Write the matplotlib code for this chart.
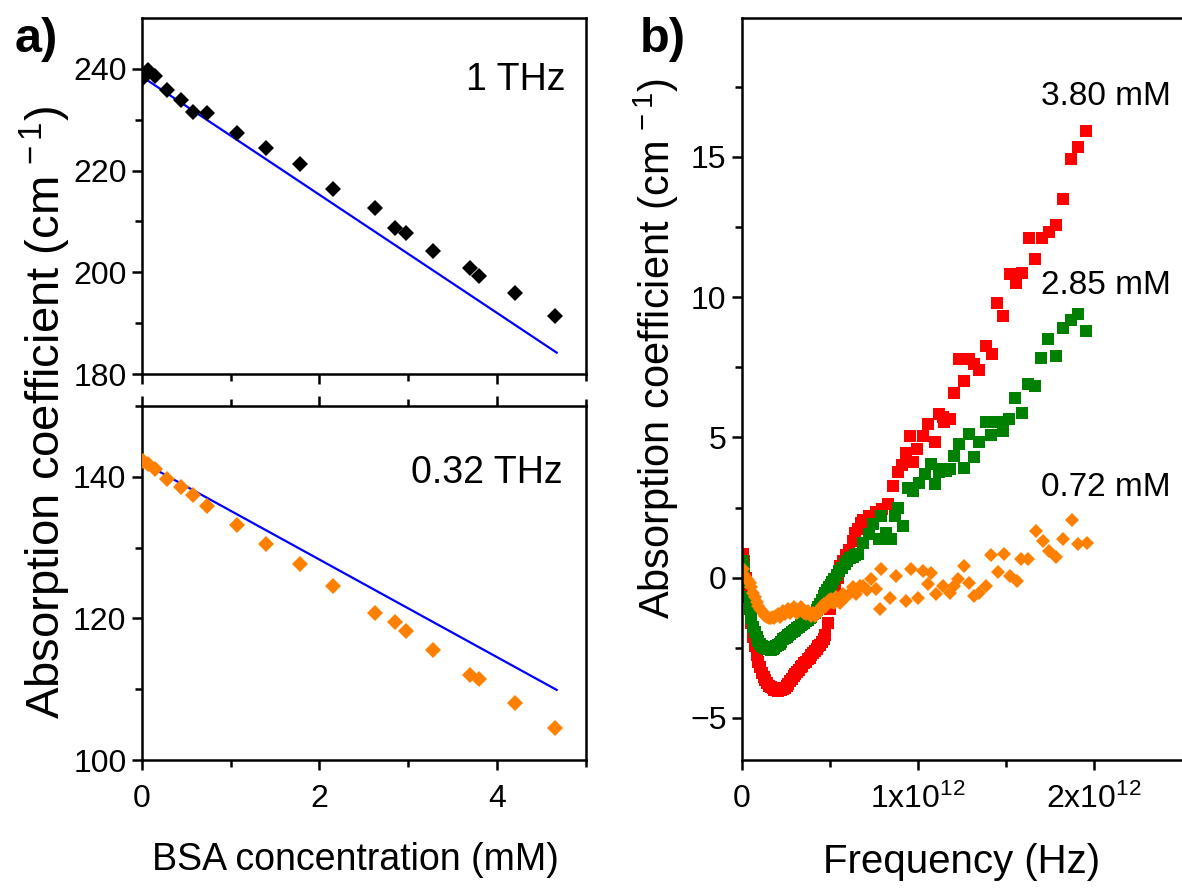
import matplotlib
matplotlib.use("Agg")
import matplotlib.pyplot as plt
import numpy as np
from matplotlib.ticker import MultipleLocator, FixedLocator, FixedFormatter

plt.rcParams['font.family'] = ['Liberation Sans', 'DejaVu Sans']
plt.rcParams['mathtext.fontset'] = 'custom'
plt.rcParams['mathtext.rm'] = 'Liberation Sans'
plt.rcParams['mathtext.it'] = 'Liberation Sans:italic'

# ---- panel a: absorption vs BSA concentration ----
conc = [0.02, 0.075, 0.15, 0.29, 0.44, 0.58, 0.73, 1.07, 1.40, 1.78, 2.15,
        2.63, 2.85, 2.97, 3.28, 3.70, 3.80, 4.20, 4.65]
alpha_1thz = [238.3, 239.7, 238.5, 235.9, 233.9, 231.6, 231.3, 227.3, 224.4,
              221.3, 216.4, 212.6, 208.8, 207.7, 204.2, 200.9, 199.3, 196.0, 191.5]
alpha_032thz = [142.3, 141.8, 141.1, 139.7, 138.5, 137.5, 135.9, 133.2, 130.5,
                127.7, 124.6, 120.7, 119.5, 118.2, 115.5, 112.0, 111.4, 108.0, 104.5]
fit_x = [0.0, 4.67]
fit_1thz = [238.5, 184.2]
fit_032thz = [142.1, 109.9]

# ---- panel b: absorption spectra (frequency in THz) ----
f_red = [0.005, 0.015, 0.025, 0.035, 0.045, 0.055, 0.065, 0.075, 0.085, 0.095,
         0.105, 0.115, 0.125, 0.135, 0.145, 0.155, 0.165, 0.175, 0.185, 0.195,
         0.205, 0.215, 0.225, 0.235, 0.245, 0.255, 0.265, 0.275, 0.285, 0.295,
         0.305, 0.315, 0.325, 0.335, 0.345, 0.355, 0.365, 0.375, 0.385, 0.395,
         0.405, 0.415, 0.425, 0.435, 0.445, 0.455, 0.465, 0.475, 0.49, 0.50,
         0.515, 0.53, 0.545, 0.56, 0.575, 0.59, 0.61, 0.63, 0.645, 0.66,
         0.675, 0.69, 0.72, 0.76, 0.795, 0.83, 0.858, 0.887, 0.91, 0.934,
         0.953, 0.972, 0.994, 1.028, 1.057, 1.10, 1.123, 1.142, 1.151, 1.18,
         1.204, 1.236, 1.26, 1.293, 1.321, 1.349, 1.387, 1.419, 1.45, 1.485,
         1.523, 1.557, 1.591, 1.629, 1.667, 1.704, 1.742, 1.784, 1.825, 1.869,
         1.912, 1.957]
a_red = [0.85, 0.6, 0.0, -0.6, -1.1, -1.6, -2.1, -2.45, -2.75, -3.0,
         -3.2, -3.4, -3.55, -3.65, -3.75, -3.85, -3.9, -3.95, -4.0, -4.02,
         -4.05, -4.02, -4.0, -3.98, -3.92, -3.85, -3.78, -3.7, -3.6, -3.5,
         -3.45, -3.35, -3.3, -3.2, -3.15, -3.05, -3.0, -2.9, -2.85, -2.75,
         -2.7, -2.6, -2.55, -2.45, -2.4, -2.3, -2.2, -2.05, -1.6, -1.1,
         -0.7, -0.3, 0.0, 0.4, 0.6, 0.8, 1.0, 1.3, 1.6, 1.75,
         1.95, 2.05, 2.2, 2.35, 2.45, 2.62, 3.27, 3.75, 4.0, 4.46,
         5.06, 4.11, 4.58, 5.06, 5.48, 4.82, 5.83, 5.71, 5.54, 5.65,
         6.57, 7.8, 7.02, 7.8, 7.62, 7.41, 8.27, 7.98, 9.8, 9.31,
         10.83, 10.51, 10.87, 12.1, 11.37, 12.1, 12.32, 12.58, 13.51, 14.94,
         15.36, 15.93]

f_green = [0.005, 0.015, 0.025, 0.035, 0.045, 0.055, 0.065, 0.075, 0.085, 0.095,
           0.105, 0.115, 0.125, 0.135, 0.145, 0.155, 0.165, 0.175, 0.185, 0.195,
           0.205, 0.215, 0.225, 0.235, 0.245, 0.255, 0.265, 0.275, 0.285, 0.295,
           0.305, 0.315, 0.325, 0.335, 0.345, 0.355, 0.365, 0.375, 0.385, 0.395,
           0.405, 0.415, 0.425, 0.435, 0.445, 0.455, 0.465, 0.475, 0.485, 0.495,
           0.505, 0.515, 0.525, 0.54, 0.555, 0.57, 0.585, 0.60, 0.615, 0.63,
           0.645, 0.66, 0.689, 0.72, 0.745, 0.78, 0.793, 0.82, 0.85, 0.868,
           0.887, 0.915, 0.943, 0.972, 1.004, 1.038, 1.072, 1.10, 1.123, 1.142,
           1.16, 1.18, 1.204, 1.236, 1.26, 1.293, 1.321, 1.349, 1.387, 1.416,
           1.45, 1.485, 1.519, 1.551, 1.589, 1.627, 1.665, 1.702, 1.74, 1.784,
           1.825, 1.869, 1.912, 1.953]
a_green = [0.6, 0.3, -0.2, -0.7, -1.1, -1.45, -1.75, -1.95, -2.1, -2.25,
           -2.35, -2.42, -2.48, -2.52, -2.55, -2.55, -2.57, -2.55, -2.5, -2.45,
           -2.4, -2.35, -2.3, -2.2, -2.15, -2.1, -2.05, -2.0, -1.95, -1.9,
           -1.85, -1.8, -1.75, -1.7, -1.65, -1.6, -1.55, -1.5, -1.45, -1.4,
           -1.3, -1.25, -1.15, -1.05, -0.95, -0.8, -0.65, -0.55, -0.45, -0.35,
           -0.25, -0.15, -0.05, 0.1, 0.25, 0.35, 0.5, 0.6, 0.7, 0.75,
           0.8, 0.83, 1.25, 1.55, 1.9, 1.37, 2.2, 1.6, 1.39, 2.2,
           2.5, 1.84, 3.21, 3.09, 3.39, 3.69, 4.05, 3.33, 3.75, 3.87,
           3.81, 3.87, 4.34, 4.76, 3.9, 5.12, 4.29, 4.82, 5.54, 5.08,
           5.54, 5.24, 5.65, 6.39, 5.86, 6.9, 6.82, 7.83, 8.51, 7.91,
           8.89, 9.2, 9.4, 8.81]

f_orange = [0.005, 0.015, 0.025, 0.035, 0.045, 0.055, 0.065, 0.075, 0.085, 0.095,
            0.105, 0.115, 0.125, 0.135, 0.145, 0.155, 0.165, 0.175, 0.185, 0.195,
            0.205, 0.215, 0.225, 0.235, 0.245, 0.255, 0.265, 0.275, 0.285, 0.295,
            0.305, 0.315, 0.325, 0.335, 0.345, 0.355, 0.365, 0.375, 0.385, 0.395,
            0.405, 0.415, 0.425, 0.435, 0.445, 0.455, 0.465, 0.475, 0.485, 0.495,
            0.505, 0.515, 0.525, 0.535, 0.545, 0.557, 0.575, 0.595, 0.613, 0.63,
            0.65, 0.67, 0.689, 0.71, 0.736, 0.76, 0.783, 0.793, 0.84, 0.878,
            0.934, 0.963, 1.0, 1.028, 1.057, 1.076, 1.104, 1.142, 1.18, 1.208,
            1.226, 1.265, 1.293, 1.321, 1.349, 1.387, 1.416, 1.453, 1.487, 1.525,
            1.561, 1.585, 1.623, 1.67, 1.708, 1.746, 1.784, 1.825, 1.874, 1.912,
            1.959]
a_orange = [0.3, 0.1, 0.0, -0.1, -0.2, -0.35, -0.55, -0.7, -0.85, -1.0,
            -1.1, -1.2, -1.3, -1.35, -1.4, -1.45, -1.45, -1.4, -1.45, -1.35,
            -1.3, -1.4, -1.3, -1.2, -1.3, -1.2, -1.1, -1.25, -1.15, -1.05,
            -1.2, -1.25, -1.15, -1.05, -1.2, -1.25, -1.3, -1.2, -1.3, -1.35,
            -1.25, -1.35, -1.3, -1.2, -1.1, -1.0, -0.95, -1.05, -0.9, -0.8,
            -0.75, -0.85, -0.9, -0.7, -0.8, -0.89, -0.6, -0.7, -0.54, -0.35,
            -0.6, -0.3, -0.3, -0.45, -0.06, -0.4, -1.13, 0.3, -0.71, 0.06,
            -0.83, 0.3, -0.71, 0.24, -0.24, 0.18, -0.6, -0.3, -0.54, -0.3,
            -0.06, 0.41, -0.18, -0.66, -0.54, -0.3, 0.8, 0.2, 0.83, 0.06,
            -0.12, 0.65, 0.65, 1.67, 1.31, 0.95, 0.75, 1.37, 2.06, 1.19,
            1.25]

W, H = 1182, 888
fig = plt.figure(figsize=(W / 100, H / 100), dpi=100)


def px_axes(x0, y0, x1, y1):
    return fig.add_axes([x0 / W, 1 - y1 / H, (x1 - x0) / W, (y1 - y0) / H])


def style(ax):
    for s in ax.spines.values():
        s.set_linewidth(1.8)
    ax.tick_params(which='both', direction='out', width=1.8, labelsize=23,
                   pad=4)
    ax.tick_params(which='major', length=7)
    ax.tick_params(which='minor', length=5)


ax1 = px_axes(141.7, 18, 586, 374)
ax2 = px_axes(141.7, 406, 586, 760)
ax3 = px_axes(741.7, 18, 1182, 760)

# top-left: 1 THz
ax1.plot(fit_x, fit_1thz, color='#0000ff', lw=1.6, zorder=2)
ax1.plot(conc, alpha_1thz, 'D', color='black', ms=8, mew=0, zorder=3)
ax1.set_xlim(0, 5)
ax1.set_ylim(180, 250)
ax1.xaxis.set_major_locator(MultipleLocator(2))
ax1.xaxis.set_minor_locator(MultipleLocator(1))
ax1.yaxis.set_major_locator(FixedLocator([180, 200, 220, 240]))
ax1.yaxis.set_minor_locator(FixedLocator([190, 210, 230]))
ax1.tick_params(axis='x', labelbottom=False)
style(ax1)
ax1.text(0.953, 0.826, '1 THz', transform=ax1.transAxes, ha='right',
         va='center', fontsize=27)

# bottom-left: 0.32 THz
ax2.plot(fit_x, fit_032thz, color='#0000ff', lw=1.6, zorder=2)
ax2.plot(conc, alpha_032thz, 'D', color='#ff8000', ms=8, mew=0, zorder=3)
ax2.set_xlim(0, 5)
ax2.set_ylim(100, 150)
ax2.xaxis.set_major_locator(MultipleLocator(2))
ax2.xaxis.set_minor_locator(MultipleLocator(1))
ax2.yaxis.set_major_locator(MultipleLocator(20))
ax2.yaxis.set_minor_locator(MultipleLocator(10))
style(ax2)
ax2.tick_params(axis='x', which='both', top=True)
ax2.tick_params(axis='x', pad=10)
ax2.text(0.948, 0.81, '0.32 THz', transform=ax2.transAxes, ha='right',
         va='center', fontsize=27)

fig.text(355 / W, 1 - 860 / H, 'BSA concentration (mM)', ha='center',
         va='center', fontsize=27)
fig.text(45 / W, 1 - 412 / H, r'Absorption coefficient (cm$^{\,-1}$)',
         rotation=90, ha='center', va='center', fontsize=34)

# right panel
fhz = lambda f: np.array(f) * 1e12
ax3.plot(fhz(f_red), a_red, 's', color='#ff0000', ms=8.3, mew=0)
ax3.plot(fhz(f_green), a_green, 's', color='#008000', ms=8.3, mew=0)
ax3.plot(fhz(f_orange), a_orange, 'D', color='#ff8000', ms=7.2, mew=0)
ax3.set_xlim(0, 2.5e12)
ax3.set_ylim(-6.5, 19.95)
ax3.xaxis.set_major_locator(FixedLocator([0, 1e12, 2e12]))
ax3.xaxis.set_major_formatter(FixedFormatter(['0', r'1x10$^{12}$', r'2x10$^{12}$']))
ax3.xaxis.set_minor_locator(FixedLocator([0.5e12, 1.5e12]))
ax3.yaxis.set_major_locator(MultipleLocator(5))
ax3.yaxis.set_minor_locator(MultipleLocator(2.5))
ax3.spines['right'].set_visible(False)
style(ax3)
ax3.tick_params(axis='x', pad=10)
ax3.set_xlabel('Frequency (Hz)', fontsize=29, labelpad=20)
fig.text(656 / W, 1 - 349 / H, r'Absorption coefficient (cm$^{\,-1}$)',
         rotation=90, ha='center', va='center', fontsize=30)

ax3.text(2.437e12, 17.15, '3.80 mM', ha='right', va='center', fontsize=24)
ax3.text(2.437e12, 10.42, '2.85 mM', ha='right', va='center', fontsize=24)
ax3.text(2.437e12, 3.22, '0.72 mM', ha='right', va='center', fontsize=24)

fig.text(36 / W, 1 - 40 / H, 'a)', ha='center', va='center', fontsize=35,
         fontweight='bold')
fig.text(663 / W, 1 - 40 / H, 'b)', ha='center', va='center', fontsize=35,
         fontweight='bold')

fig.savefig('out.png', dpi=100)
